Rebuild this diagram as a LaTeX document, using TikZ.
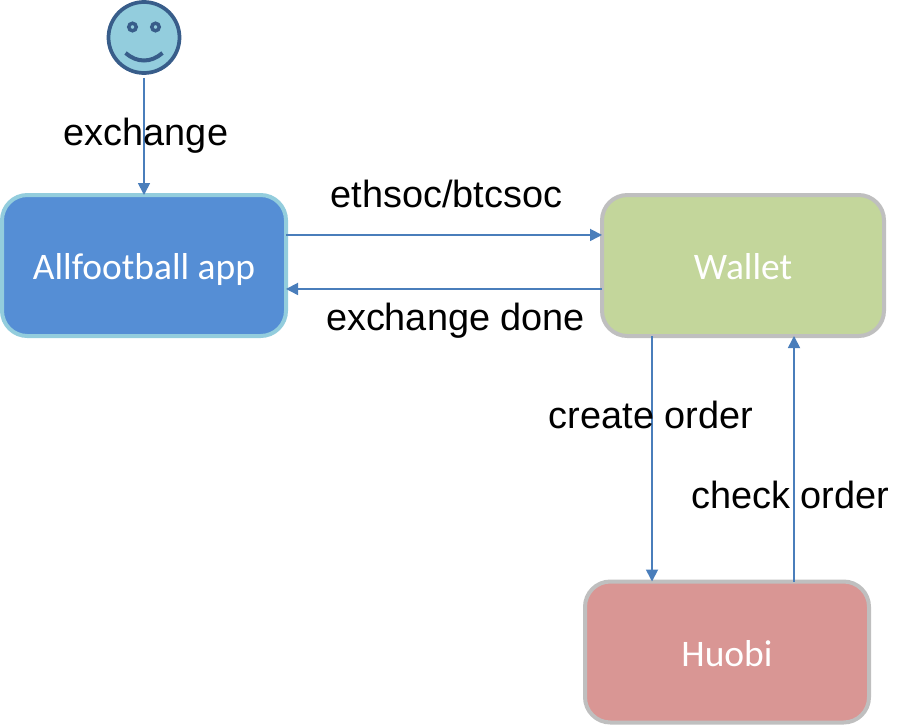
\documentclass[tikz,border=0pt]{standalone}
\usepackage{fontspec}
\setmainfont{Liberation Sans}
\newfontfamily\boxfont{Carlito}
\usetikzlibrary{arrows.meta}
\definecolor{flowblue}{HTML}{4A7EBB}
\definecolor{faceblue}{HTML}{93CDDD}
\definecolor{faceline}{HTML}{385D8A}
\definecolor{appblue}{HTML}{558ED5}
\definecolor{walletgreen}{HTML}{C3D69B}
\definecolor{huobired}{HTML}{D99694}
\definecolor{boxgray}{HTML}{BFBFBF}
\tikzset{
	appbox/.style={draw, line width=3pt, rounded corners=19pt, outer sep=0pt, inner sep=0pt, text=white,
		text height=24pt, text depth=3pt, font=\boxfont\fontsize{28.1}{32}\selectfont},
	flow/.style={draw=flowblue, line width=1.3pt, -{Triangle[length=9pt, width=9pt]}},
	lbl/.style={font=\fontsize{28.4}{32}\selectfont, text=black, inner sep=0pt, text height=20pt, text depth=6pt}
}
\begin{document}
\begin{tikzpicture}[x=0.75pt, y=-0.75pt]
	\useasboundingbox (0,0) rectangle (912,725);

	%smiley
	\node (face) at (144, 37.5) [circle, draw=faceline, fill=faceblue, line width=2.8pt, minimum size=53.25pt, inner sep=0pt, outer sep=3.7pt]{};
	\foreach \x in {132.5, 155.5}{
		\draw[draw=faceline, fill=faceblue, line width=2.6pt] (\x, 27) circle (2.8pt);
	}
	\draw[faceline, line width=3pt] (125.5, 53) .. controls (137, 63) and (151, 63) .. (162.5, 53);

	%boxes
	\node (app) at (144, 265.5) [appbox, fill=appblue, draw=faceblue, minimum width=213pt, minimum height=105.75pt]{Allfootball app};
	\node (wallet) at (743, 265.5) [appbox, fill=walletgreen, draw=boxgray, minimum width=211.5pt, minimum height=105.75pt]{Wallet};
	\node (huobi) at (727, 652) [appbox, fill=huobired, draw=boxgray, minimum width=213pt, minimum height=105.75pt]{Huobi};

	%connectors
	\draw[flow] (face.south) -- (app.north);
	\draw[flow] ([yshift=22.9pt]app.east) -- ([yshift=22.9pt]wallet.west);
	\draw[flow] ([yshift=-17.6pt]wallet.west) -- ([yshift=-17.6pt]app.east);
	\draw[flow] ([xshift=-68.25pt]wallet.south) -- ([xshift=-56.25pt]huobi.north);
	\draw[flow] ([xshift=50.25pt]huobi.north) -- ([xshift=38.25pt]wallet.south);

	%labels
	\node (lblexchange) at (146, 136) [lbl]{exchange};
	\node (lbleth) at (446.5, 198) [lbl]{ethsoc/btcsoc};
	\node (lbldone) at (455.5, 321) [lbl]{exchange done};
	\node (lblcreate) at (651, 419) [lbl]{create order};
	\node (lblcheck) at (790, 499) [lbl]{check order};
\end{tikzpicture}
\end{document}
